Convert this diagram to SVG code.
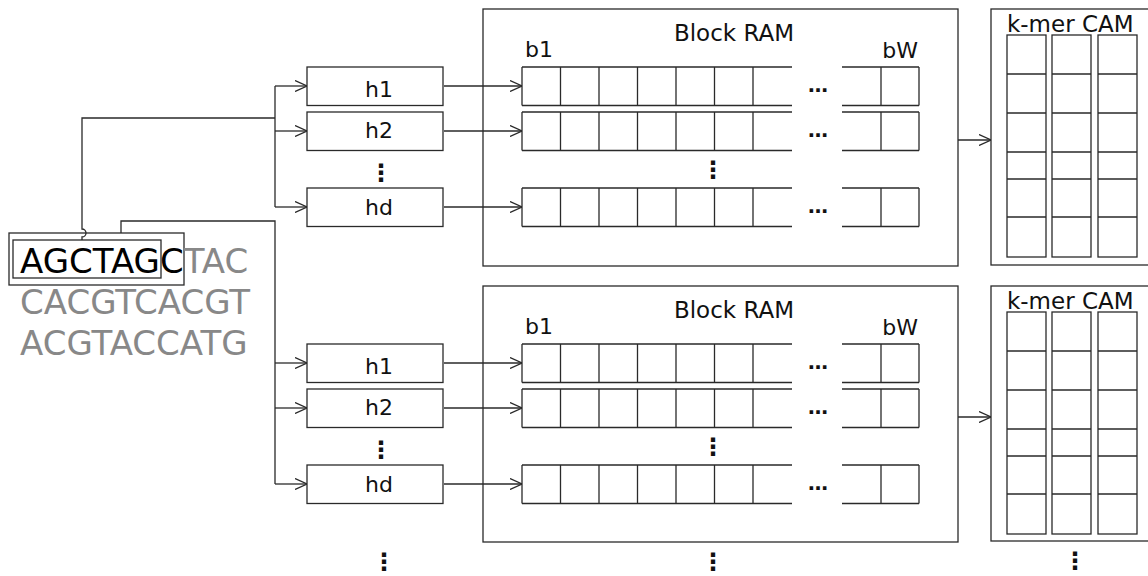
<svg xmlns="http://www.w3.org/2000/svg" xmlns:xlink="http://www.w3.org/1999/xlink" width="1148" height="576" viewBox="0 0 1148 576">
<style>
  .ln { fill: none; stroke: #2a2a2a; stroke-width: 1.3; }
  .box { fill: #fff; stroke: #2a2a2a; stroke-width: 1.3; }
  .t { font-family: "DejaVu Sans", "Liberation Sans", sans-serif; fill: #111; }
  .lbl { font-size: 22px; }
  .hd { font-size: 23px; }
  .seq { font-size: 34px; fill: #888; }
  .blk { fill: #000; }
  .dots { font-size: 20px; font-weight: bold; }
  .vd { font-size: 24px; font-weight: bold; }
  .arr { fill: none; stroke: #2a2a2a; stroke-width: 1.3; marker-end: url(#ah); }
</style>
<defs>
  <marker id="ah" viewBox="0 0 12 12" refX="12" refY="6" markerWidth="12" markerHeight="12" markerUnits="userSpaceOnUse" orient="auto">
    <path d="M0,0.5 L12,6 L0,11.5" fill="none" stroke="#2a2a2a" stroke-width="1.3"/>
  </marker>
  <g id="ramrow">
    <path class="ln" d="M522,0 H792 M522,38.5 H792 M522,0 V38.5 M560.5,0 V38.5 M599,0 V38.5 M637.5,0 V38.5 M676,0 V38.5 M714.5,0 V38.5 M753,0 V38.5 M842,0 H919 M842,38.5 H919 M881,0 V38.5 M919,0 V38.5"/>
    <text class="t dots" x="818" y="25" text-anchor="middle">…</text>
  </g>
  <g id="camcol">
    <rect class="box" x="0" y="0" width="39" height="222"/>
    <path class="ln" d="M0,39 H39 M0,78 H39 M0,117 H39 M0,144 H39 M0,182 H39"/>
  </g>
</defs>

<g id="sequence">
  <rect class="ln" x="9" y="233" width="175" height="52"/>
  <rect class="ln" x="13" y="240" width="148" height="38"/>
  <text class="t seq" x="20" y="273"><tspan class="blk">AGCTAGC</tspan>TAC</text>
  <text class="t seq" x="20" y="314">CACGTCACGT</text>
  <text class="t seq" x="20" y="355">ACGTACCATG</text>
</g>

<g id="connectors">
  <path class="ln" d="M82,240 V237 A4,4 0 0 0 82,229 V118 H275"/>
  <path class="ln" d="M275,86 V207"/>
  <path class="arr" d="M275,86 H307"/>
  <path class="arr" d="M275,131 H307"/>
  <path class="arr" d="M275,207 H307"/>
  <path class="ln" d="M121,233 V221 H275 V484"/>
  <path class="arr" d="M275,363 H307"/>
  <path class="arr" d="M275,408 H307"/>
  <path class="arr" d="M275,484 H307"/>
  <path class="arr" d="M444,86 H522"/>
  <path class="arr" d="M444,131 H522"/>
  <path class="arr" d="M444,207 H522"/>
  <path class="arr" d="M444,363 H522"/>
  <path class="arr" d="M444,408 H522"/>
  <path class="arr" d="M444,484 H522"/>
  <path class="arr" d="M958,140 H991"/>
  <path class="arr" d="M958,417 H991"/>
</g>

<g id="hash-top">
  <g id="h1-top"><rect class="box" x="307" y="67" width="136" height="38.5"/><text class="t lbl" x="379" y="97" text-anchor="middle">h1</text></g>
  <g id="h2-top"><rect class="box" x="307" y="112" width="136" height="38.5"/><text class="t lbl" x="379" y="138" text-anchor="middle">h2</text></g>
  <text class="t vd" x="381" y="181" text-anchor="middle">⋮</text>
  <g id="hd-top"><rect class="box" x="307" y="188" width="136" height="38.5"/><text class="t lbl" x="379" y="215" text-anchor="middle">hd</text></g>
</g>

<g id="hash-bottom">
  <g id="h1-bot"><rect class="box" x="307" y="344" width="136" height="38.5"/><text class="t lbl" x="379" y="374" text-anchor="middle">h1</text></g>
  <g id="h2-bot"><rect class="box" x="307" y="389" width="136" height="38.5"/><text class="t lbl" x="379" y="415" text-anchor="middle">h2</text></g>
  <text class="t vd" x="381" y="458" text-anchor="middle">⋮</text>
  <g id="hd-bot"><rect class="box" x="307" y="465" width="136" height="38.5"/><text class="t lbl" x="379" y="492" text-anchor="middle">hd</text></g>
</g>

<g id="bram-top">
  <rect class="ln" x="483" y="9" width="475" height="257"/>
  <text class="t hd" x="734" y="41" text-anchor="middle">Block RAM</text>
  <text class="t lbl" x="525" y="57">b1</text>
  <text class="t lbl" x="918" y="58" text-anchor="end">bW</text>
  <use xlink:href="#ramrow" href="#ramrow" transform="translate(0,67)"/>
  <use xlink:href="#ramrow" href="#ramrow" transform="translate(0,112)"/>
  <text class="t vd" x="713" y="178" text-anchor="middle">⋮</text>
  <use xlink:href="#ramrow" href="#ramrow" transform="translate(0,188)"/>
</g>

<g id="bram-bottom">
  <rect class="ln" x="483" y="286" width="475" height="256"/>
  <text class="t hd" x="734" y="318" text-anchor="middle">Block RAM</text>
  <text class="t lbl" x="525" y="334">b1</text>
  <text class="t lbl" x="918" y="335" text-anchor="end">bW</text>
  <use xlink:href="#ramrow" href="#ramrow" transform="translate(0,344)"/>
  <use xlink:href="#ramrow" href="#ramrow" transform="translate(0,389)"/>
  <text class="t vd" x="713" y="455" text-anchor="middle">⋮</text>
  <use xlink:href="#ramrow" href="#ramrow" transform="translate(0,465)"/>
</g>

<g id="cam-top">
  <rect class="ln" x="991" y="9" width="170" height="256"/>
  <text class="t hd" x="1007" y="32">k-mer CAM</text>
  <use xlink:href="#camcol" href="#camcol" transform="translate(1007,35)"/>
  <use xlink:href="#camcol" href="#camcol" transform="translate(1052,35)"/>
  <use xlink:href="#camcol" href="#camcol" transform="translate(1098,35)"/>
</g>

<g id="cam-bottom">
  <rect class="ln" x="991" y="286" width="170" height="255"/>
  <text class="t hd" x="1007" y="309">k-mer CAM</text>
  <use xlink:href="#camcol" href="#camcol" transform="translate(1007,312)"/>
  <use xlink:href="#camcol" href="#camcol" transform="translate(1052,312)"/>
  <use xlink:href="#camcol" href="#camcol" transform="translate(1098,312)"/>
</g>

<g id="more">
  <text class="t vd" x="384" y="570" text-anchor="middle">⋮</text>
  <text class="t vd" x="713" y="570" text-anchor="middle">⋮</text>
  <text class="t vd" x="1075" y="569" text-anchor="middle">⋮</text>
</g>
</svg>
